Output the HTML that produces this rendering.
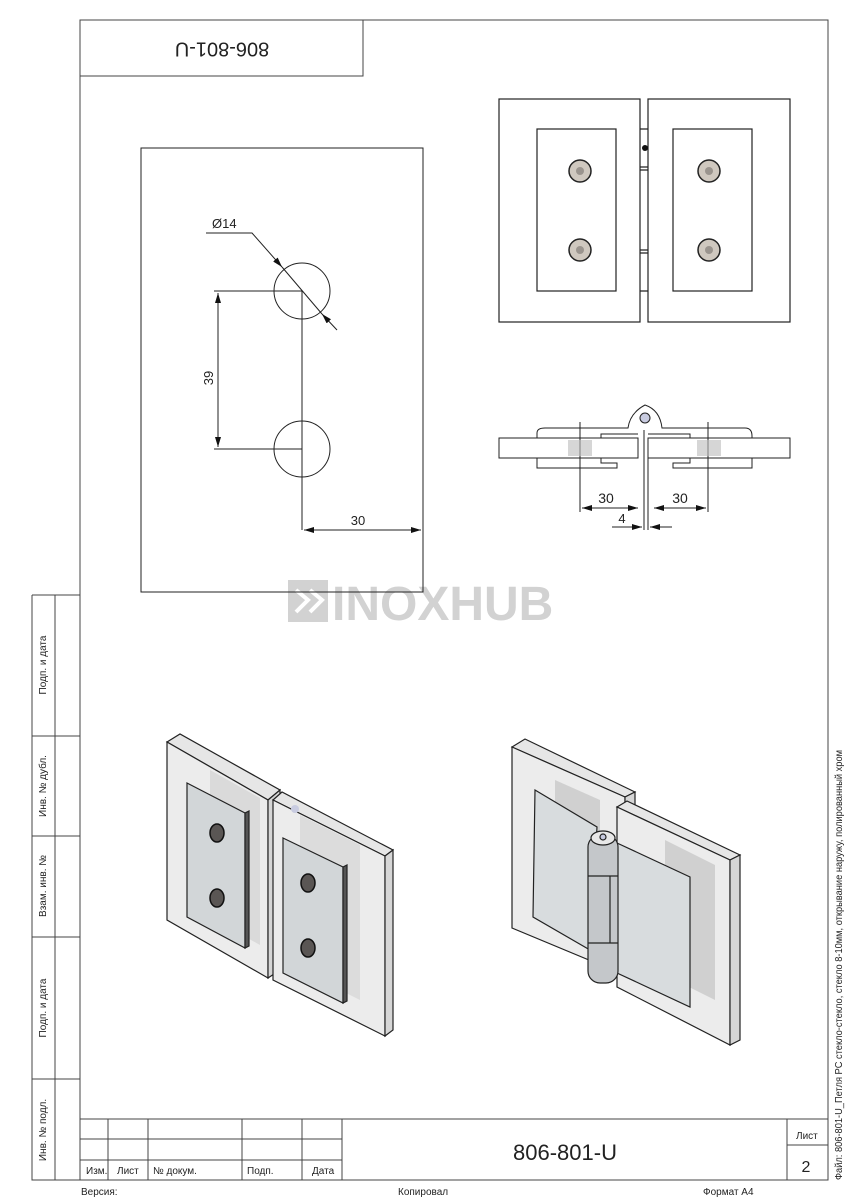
<!DOCTYPE html>
<html><head><meta charset="utf-8"><style>
html,body{margin:0;padding:0;background:#fff}
svg{display:block}
text{font-family:"Liberation Sans Narrow","Liberation Sans",sans-serif;fill:#222}
</style></head><body>
<svg width="848" height="1200" viewBox="0 0 848 1200" xmlns="http://www.w3.org/2000/svg">
<defs>
<marker id="a" viewBox="0 0 10 6" refX="10" refY="3" markerWidth="10" markerHeight="6" orient="auto-start-reverse" markerUnits="userSpaceOnUse"><path d="M0,0L10,3L0,6z" fill="#111"/></marker>
</defs>
<g fill="none" stroke="#444" stroke-width="1">
<path d="M80,20V1180H828V20H80"/>
<rect x="80" y="20" width="283" height="56"/>
<path d="M32,595H80M32,595V1180H80M55,595V1180M32,736H80M32,836H80M32,937H80M32,1079H80"/>
<path d="M80,1119H828M80,1139H342M80,1160H342M787,1145H828M108,1119V1180M148,1119V1180M242,1119V1180M302,1119V1180M342,1119V1180M787,1119V1180"/>
</g>
<text transform="translate(222,48) rotate(180)" font-size="20" text-anchor="middle" dominant-baseline="middle">806-801-U</text>
<g font-size="10">
<text transform="translate(46,665) rotate(-90)" text-anchor="middle">Подп. и дата</text>
<text transform="translate(46,786) rotate(-90)" text-anchor="middle">Инв. № дубл.</text>
<text transform="translate(46,886) rotate(-90)" text-anchor="middle">Взам. инв. №</text>
<text transform="translate(46,1008) rotate(-90)" text-anchor="middle">Подп. и дата</text>
<text transform="translate(46,1130) rotate(-90)" text-anchor="middle">Инв. № подл.</text>
<text x="86" y="1174">Изм.</text><text x="117" y="1174">Лист</text><text x="153" y="1174">№ докум.</text>
<text x="247" y="1174">Подп.</text><text x="312" y="1174">Дата</text>
<text x="796" y="1139">Лист</text>
<text x="81" y="1195">Версия:</text><text x="398" y="1195">Копировал</text><text x="703" y="1195">Формат А4</text>
</g>
<text transform="translate(842,1180) rotate(-90)" font-size="10" textLength="430" lengthAdjust="spacingAndGlyphs">Файл: 806-801-U_Петля PC стекло-стекло, стекло 8-10мм, открывание наружу, полированный хром</text>
<text x="565" y="1160" font-size="22" text-anchor="middle">806-801-U</text>
<text x="806" y="1172" font-size="16" text-anchor="middle">2</text>

<g fill="#d2d2d2">
<rect x="288" y="580" width="40" height="42"/>
<text x="332" y="620" font-size="48" font-weight="bold" style="fill:#d2d2d2;font-family:'Liberation Sans',sans-serif">INOXHUB</text>
</g>
<path d="M296,590l12,10l-12,12M310,590l12,10l-12,12" stroke="#fff" stroke-width="4" fill="none"/>

<g fill="none" stroke="#222" stroke-width="1">
<rect x="141" y="148" width="282" height="444"/>
<circle cx="302" cy="291" r="28"/><circle cx="302" cy="449" r="28"/>
<path d="M214,291H302V530M214,449H302M423,530V535"/>
<path d="M218,293V447" marker-start="url(#a)" marker-end="url(#a)"/>
<path d="M304,530H421" marker-start="url(#a)" marker-end="url(#a)"/>
<path d="M206,233H252L282,267" marker-end="url(#a)"/>
<path d="M337,330L322,314" marker-end="url(#a)"/>
<path d="M282,267L322,314"/>
</g>
<text x="212" y="228" font-size="13">Ø14</text>
<text transform="translate(213,378) rotate(-90)" font-size="13" text-anchor="middle">39</text>
<text x="358" y="525" font-size="13" text-anchor="middle">30</text>

<g fill="none" stroke="#222" stroke-width="1.2">
<rect x="499" y="99" width="141" height="223"/>
<rect x="648" y="99" width="142" height="223"/>
<rect x="537" y="129" width="79" height="162"/>
<rect x="673" y="129" width="79" height="162"/>
<path d="M640,129H648M640,291H648M640,167H648M640,170H648M640,250H648M640,253H648"/>
</g>
<circle cx="645" cy="148" r="3" fill="#111"/>
<g fill="#cfc8bf" stroke="#222" stroke-width="1.5">
<circle cx="580" cy="171" r="11"/><circle cx="580" cy="250" r="11"/>
<circle cx="709" cy="171" r="11"/><circle cx="709" cy="250" r="11"/>
</g>
<g fill="#9a948e"><circle cx="580" cy="171" r="4"/><circle cx="580" cy="250" r="4"/><circle cx="709" cy="171" r="4"/><circle cx="709" cy="250" r="4"/></g>

<g fill="none" stroke="#222" stroke-width="1">
<rect x="499" y="438" width="139" height="20"/>
<rect x="648" y="438" width="142" height="20"/>
<path d="M537,438V433Q537,428 545,428H628Q630,413 645,405Q660,410 662,428H745Q752,428 752,436V438"/>
<path d="M601,438V434H638M648,434H690V438"/>
<path d="M537,458V468H617V463H601V458M752,458V468H673V463H690V458"/>
<circle cx="645" cy="418" r="5" fill="#c8cbe0"/>
<path d="M644,430V530M648,438V530"/>
<path d="M580,422V512M708,422V512"/>
<path d="M582,508H638" marker-start="url(#a)" marker-end="url(#a)"/>
<path d="M654,508H706" marker-start="url(#a)" marker-end="url(#a)"/>
<path d="M612,527H642" marker-end="url(#a)"/>
<path d="M672,527H650" marker-end="url(#a)"/>
</g>
<g fill="#bbb" opacity=".6"><rect x="568" y="440" width="24" height="16"/><rect x="697" y="440" width="24" height="16"/></g>
<text x="606" y="503" font-size="14" text-anchor="middle">30</text>
<text x="680" y="503" font-size="14" text-anchor="middle">30</text>
<text x="622" y="523" font-size="13" text-anchor="middle">4</text>

<g stroke="#222" stroke-width="1.2">
<polygon points="167,742 180,734 280,790 268,800" fill="#e6e6e6"/>
<polygon points="167,742 268,800 268,978 167,920" fill="#ececec"/>
<polygon points="268,800 280,790 280,970 268,978" fill="#d6d6d6"/>
<polygon points="210,770 260,798 260,945 210,917" fill="#dadada" stroke="none"/>
<polygon points="273,800 282,792 393,850 385,856" fill="#e6e6e6"/>
<polygon points="273,800 385,856 385,1036 273,980" fill="#ececec"/>
<polygon points="385,856 393,850 393,1030 385,1036" fill="#d6d6d6"/>
<polygon points="300,815 360,845 360,1000 300,970" fill="#dcdcdc" stroke="none"/>
<polygon points="187,783 245,813 245,948 187,917" fill="#d2d6d8"/>
<polygon points="245,813 249,811 249,946 245,948" fill="#555"/>
<polygon points="283,838 343,867 343,1003 283,973" fill="#d2d6d8"/>
<polygon points="343,867 347,865 347,1001 343,1003" fill="#555"/>
<circle cx="295" cy="809" r="4" fill="#c8cbe0" stroke="none"/>
</g>
<g fill="#5a5654" stroke="#111" stroke-width="1.5">
<ellipse cx="217" cy="833" rx="7" ry="9"/><ellipse cx="217" cy="898" rx="7" ry="9"/>
<ellipse cx="308" cy="883" rx="7" ry="9"/><ellipse cx="308" cy="948" rx="7" ry="9"/>
</g>

<g stroke="#222" stroke-width="1.2">
<polygon points="512,747 525,739 635,792 625,797" fill="#e6e6e6"/>
<polygon points="512,747 625,797 625,975 512,928" fill="#ececec"/>
<polygon points="625,797 635,792 635,970 625,975" fill="#d6d6d6"/>
<polygon points="617,807 627,801 740,855 730,860" fill="#e6e6e6"/>
<polygon points="617,807 730,860 730,1045 617,987" fill="#ececec"/>
<polygon points="730,860 740,855 740,1040 730,1045" fill="#d6d6d6"/>
<polygon points="555,780 600,800 600,940 555,920" fill="#d0d0d0" stroke="none"/>
<polygon points="665,840 715,865 715,1000 665,975" fill="#d0d0d0" stroke="none"/>
<polygon points="535,790 597,827 590,950 533,917" fill="#d8dcde"/>
<polygon points="617,843 690,877 690,1007 617,973" fill="#d8dcde"/>
<rect x="588" y="835" width="30" height="148" rx="12" fill="#c4c7ca"/>
<path d="M588,876H618M588,943H618M610,876V943" fill="none"/>
<ellipse cx="603" cy="838" rx="12" ry="7" fill="#e8e8e8"/>
<circle cx="603" cy="837" r="3" fill="#c8cbe0"/>
</g>
</svg>
</body></html>
